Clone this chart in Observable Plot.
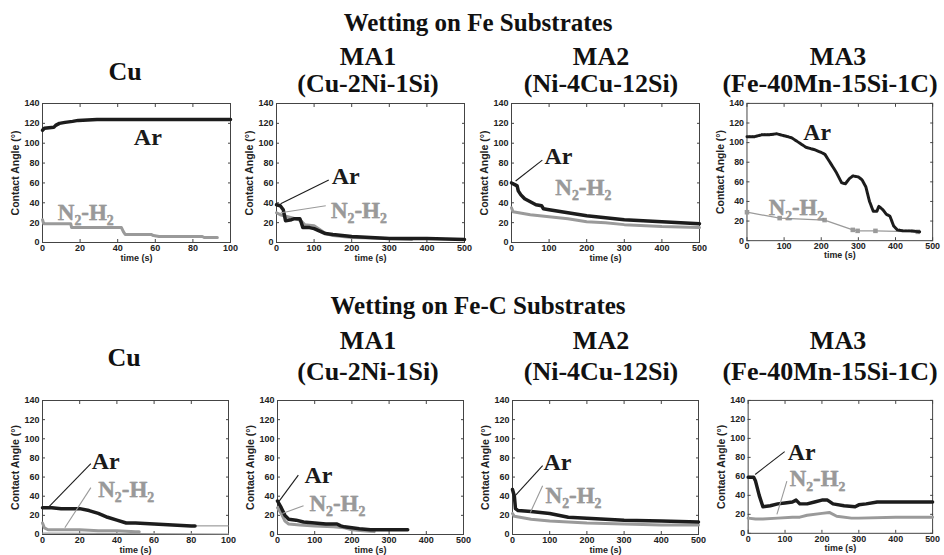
<!DOCTYPE html>
<html><head><meta charset="utf-8">
<script src="https://cdn.jsdelivr.net/npm/d3@7"></script>
<script src="https://cdn.jsdelivr.net/npm/@observablehq/plot@0.6"></script>
<style>
body{margin:0;background:#fff;}
#root{position:relative;width:944px;height:555px;overflow:hidden;background:#fff;}
.t{position:absolute;font-family:"Liberation Serif","Times New Roman","DejaVu Serif",serif;font-weight:bold;color:#111;white-space:nowrap;transform:translateX(-50%);line-height:1;}
.p{position:absolute;}
</style></head><body><div id="root"></div>
<script>
// ---------- text ----------
const rowTitles = ["Wetting on Fe Substrates", "Wetting on Fe-C Substrates"];
const alloyNames = ["Cu", "MA1", "MA2", "MA3"];
const alloyComps = ["", "(Cu-2Ni-1Si)", "(Ni-4Cu-12Si)", "(Fe-40Mn-15Si-1C)"];
const seriesNames = ["Ar", "N\u2082-H\u2082"];
const xLabel = "time (s)";
const yLabel = "Contact Angle (\u00b0)";
const yTicks = [0, 20, 40, 60, 80, 100, 120, 140];
const xTicksCu = [0, 20, 40, 60, 80, 100];
const xTicksMA = [0, 100, 200, 300, 400, 500];

// ---------- data: [time (s), contact angle (deg)] ----------
const feCu_Ar = [[0,113],[1,115],[6,116],[7,118],[9,120],[12,121],[16,122],[19,123],[29,124],[100,124]];
const feCu_N2 = [[0,23],[0.6,19],[15,19],[15.5,15],[42,15],[43,11],[44,8],[58,8],[59,7],[62,6],[85,6],[86,5],[93,5]];
const feMA1_Ar = [[0,38],[10,37],[18,33],[24,22],[40,23],[48,24],[62,24],[66,20],[70,15],[88,15],[100,14],[112,12],[130,9],[150,8],[200,6],[250,5],[300,4],[400,4],[500,3]];
const feMA1_N2 = [[0,30],[10,28],[30,26],[50,24],[65,22],[75,18],[100,17],[115,13],[130,9],[150,7],[200,5],[300,4],[360,3]];
const feMA2_Ar = [[0,60],[10,58],[15,57],[18,52],[25,48],[35,44],[50,41],[65,38],[80,37],[85,34],[100,33],[150,30],[200,27],[250,25],[300,23],[350,22],[400,21],[450,20],[500,19]];
const feMA2_N2 = [[0,35],[4,31],[50,28],[100,26],[150,24],[200,21],[250,20],[300,18],[400,16],[500,15]];
const feMA3_Ar = [[0,106],[20,106],[40,108],[60,108],[80,109],[100,107],[120,105],[140,100],[160,95],[180,93],[200,90],[210,88],[220,82],[240,70],[255,59],[265,58],[275,63],[285,66],[300,65],[310,62],[320,55],[330,40],[340,30],[350,30],[355,35],[365,32],[375,27],[385,25],[395,15],[405,11],[420,10],[440,10],[465,9]];
const feMA3_N2 = [[0,29],[88,23],[209,21],[285,11],[298,10],[346,10],[460,9]];
const fecCu_Ar = [[0,28],[5,28],[10,27],[20,27],[25,25],[30,22],[35,18],[40,15],[45,12],[50,12],[60,11],[70,10],[80,9],[82,9]];
const fecCu_ArTail = [[82,9],[100,9]];
const fecCu_N2 = [[0,12],[1,7],[3,5],[10,5],[20,5],[30,4],[40,4],[50,3],[52,3]];
const fecCu_N2Tail = [[0,1.5],[100,0.5]];
const fecMA1_Ar = [[0,35],[10,28],[20,20],[30,16],[50,15],[70,13],[100,12],[130,11],[160,11],[170,9],[180,8],[200,7],[220,6],[250,5],[300,5],[350,5]];
const fecMA1_N2 = [[0,28],[10,22],[20,14],[30,11],[60,10],[100,9],[150,8],[180,7],[200,5],[230,4],[260,3]];
const fecMA2_Ar = [[0,47],[5,40],[8,27],[15,25],[50,24],[100,22],[150,18],[200,17],[300,15],[400,14],[500,13]];
const fecMA2_N2 = [[0,22],[5,19],[20,18],[50,16],[100,14],[200,12],[300,11],[400,10],[500,10]];
const fecMA3_Ar = [[0,59],[15,59],[20,55],[30,40],[40,28],[60,29],[80,31],[100,32],[120,33],[130,35],[140,31],[160,31],[180,33],[200,35],[215,35],[230,31],[260,29],[290,28],[300,30],[320,31],[350,33],[500,33]];
const fecMA3_N2 = [[0,16],[20,15],[40,15],[80,16],[120,17],[140,17],[160,19],[200,21],[220,22],[240,18],[280,16],[300,16],[400,17],[500,17]];

// ---------- styles / layout ----------
const AR = "#1c1c1c", N2 = "#9a9a9a";
const panels = [
  {row:0, col:0, xmax:100, xt:xTicksCu, ar:feCu_Ar, n2:feCu_N2,
   lab:[[56,106],[23,30]], call:[null,null]},
  {row:0, col:1, xmax:500, xt:xTicksMA, ar:feMA1_Ar, n2:feMA1_N2,
   lab:[[184,67],[219,32]], call:[[139,63,11,39],[131,37,11,30]]},
  {row:0, col:2, xmax:500, xt:xTicksMA, ar:feMA2_Ar, n2:feMA2_N2,
   lab:[[125,87],[191,55]], call:[[82,83,11,62],null]},
  {row:0, col:3, xmax:500, xt:xTicksMA, ar:feMA3_Ar, n2:feMA3_N2, markers:true,
   lab:[[189,110],[133,34]], call:[null,null]},
  {row:1, col:0, xmax:100, xt:xTicksCu, ar:fecCu_Ar, n2:fecCu_N2, arTail:fecCu_ArTail, n2Tail:fecCu_N2Tail,
   lab:[[34,76],[45,47]], call:[[26,74,3,28],[26,49,12,7]]},
  {row:1, col:1, xmax:500, xt:xTicksMA, ar:fecMA1_Ar, n2:fecMA1_N2,
   lab:[[110,62],[161,32]], call:[[56,62,1,33],[70,30,13,22]]},
  {row:1, col:2, xmax:500, xt:xTicksMA, ar:fecMA2_Ar, n2:fecMA2_N2,
   lab:[[121,75],[164,41]], call:[[81,72,8,41],[81,51,48,23]]},
  {row:1, col:3, xmax:500, xt:xTicksMA, ar:fecMA3_Ar, n2:fecMA3_N2,
   lab:[[145,85],[188,58]], call:[[99,86,19,62],[105,55,78,20]]}
];
const rowLayout = [
  {frameTop:103, frameH:139, frameW:188, lefts:[42,276,511,747], mB:24},
  {frameTop:400, frameH:134, frameW:186, lefts:[42,277,512,748], mB:21}
];
const titleLayout = [
  {title:[478,10,25], name:[[125,59],[368,44],[601,44],[838,44]], comp:[[368,71],[601,71],[830,71]]},
  {title:[478,293,25], name:[[124,345],[368,328],[601,328],[838,328]], comp:[[368,359],[601,359],[830,359]]}
];

const root = document.getElementById("root");
function addText(txt, x, y, size) {
  const d = document.createElement("div");
  d.className = "t";
  d.textContent = txt;
  d.style.left = x + "px"; d.style.top = y + "px"; d.style.fontSize = size + "px";
  root.appendChild(d);
}
titleLayout.forEach((L, r) => {
  addText(rowTitles[r], L.title[0], L.title[1], L.title[2]);
  alloyNames.forEach((n, i) => addText(n, L.name[i][0], L.name[i][1], 26));
  alloyComps.slice(1).forEach((c, i) => addText(c, L.comp[i][0], L.comp[i][1], 26));
});

const X = d => d[0], Y = d => d[1];
panels.forEach(p => {
  const R = rowLayout[p.row];
  const mL = 42, mT = 8, mR = 12;
  const marks = [
    Plot.frame({stroke:"#444"}),
    Plot.axisX(p.xt, {anchor:"bottom", tickSize:0, tickPadding:2, label:xLabel, labelAnchor:"center", labelArrow:"none", labelOffset:18, fontSize:9}),
    Plot.axisY(yTicks, {anchor:"left", tickSize:0, tickPadding:3, label:null, fontSize:9}),
    Plot.axisX(p.xt, {anchor:"bottom", tickSize:-3, fill:"none", label:null, stroke:"#444"}),
    Plot.axisX(p.xt, {anchor:"top", tickSize:-3, fill:"none", label:null, stroke:"#444"}),
    Plot.axisY(yTicks, {anchor:"left", tickSize:-3, fill:"none", label:null, stroke:"#444"}),
    Plot.axisY(yTicks, {anchor:"right", tickSize:-3, fill:"none", label:null, stroke:"#444"}),
    Plot.text([yLabel], {frameAnchor:"left", textAnchor:"middle", dx:-27, rotate:-90, text:d=>d, fontSize:10.5, fontWeight:"bold", fill:"#222"})
  ];
  if (p.n2Tail) marks.push(Plot.line(p.n2Tail, {x:X, y:Y, stroke:N2, strokeWidth:1.2}));
  if (p.arTail) marks.push(Plot.line(p.arTail, {x:X, y:Y, stroke:"#888", strokeWidth:1}));
  if (p.markers) {
    marks.push(Plot.line(p.n2, {x:X, y:Y, stroke:N2, strokeWidth:1.3}));
    marks.push(Plot.dot(p.n2, {x:X, y:Y, symbol:"square", r:2.6, fill:N2, stroke:null}));
    marks.push(Plot.line(p.ar, {x:X, y:Y, stroke:AR, strokeWidth:3, strokeDasharray:"2.5,0.6"}));
  } else {
    marks.push(Plot.line(p.n2, {x:X, y:Y, stroke:N2, strokeWidth:3}));
    marks.push(Plot.line(p.ar, {x:X, y:Y, stroke:AR, strokeWidth:3.5}));
  }
  p.call.forEach((c, i) => {
    if (c) marks.push(Plot.link([c], {x1:d=>d[0], y1:d=>d[1], x2:d=>d[2], y2:d=>d[3], stroke:i===0?AR:N2, strokeWidth:1.1}));
  });
  seriesNames.forEach((s, i) => {
    marks.push(Plot.text([s], {x:()=>p.lab[i][0], y:()=>p.lab[i][1], text:d=>d,
      fill:i===0?"#1a1a1a":"#999", fontFamily:"Liberation Serif, Times New Roman, DejaVu Serif, serif",
      fontWeight:"bold", fontSize:i===0?24:23, stroke:i===0?null:"#7a7a7a", strokeWidth:0.4}));
  });
  const svg = Plot.plot({
    width: mL + R.frameW + mR, height: mT + R.frameH + R.mB,
    marginLeft: mL, marginRight: mR, marginTop: mT, marginBottom: R.mB,
    style: {background:"transparent", overflow:"visible", fontFamily:"Liberation Sans, Arial, sans-serif", fontSize:"9px", fontWeight:"bold", color:"#222"},
    x: {domain:[0, p.xmax]},
    y: {domain:[0, 140]},
    marks
  });
  const wrap = document.createElement("div");
  wrap.className = "p";
  wrap.style.left = (R.lefts[p.col] - mL) + "px";
  wrap.style.top = (R.frameTop - mT) + "px";
  wrap.appendChild(svg);
  root.appendChild(wrap);
});
</script></body></html>
